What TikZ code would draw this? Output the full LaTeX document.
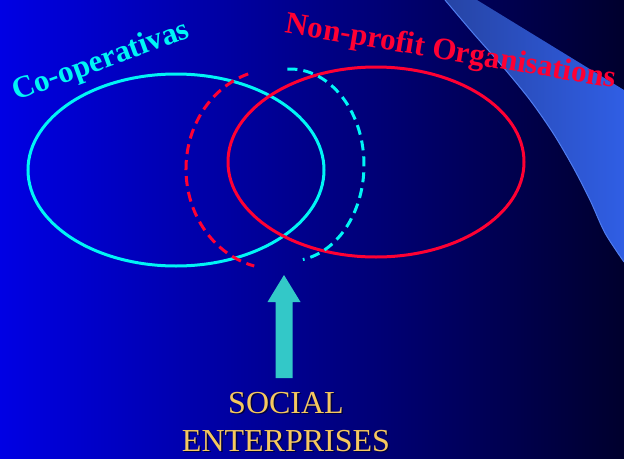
\documentclass[tikz,border=0pt]{standalone}
\usepackage{fontspec}
\setmainfont{Liberation Serif}
\usepackage{tikz}
\usetikzlibrary{calc}
\usetikzlibrary{shapes}
\definecolor[named]{SlideBlue}{RGB}{0,0,228}
\definecolor[named]{SlideNavy}{RGB}{0,0,45}
\definecolor[named]{SwooshDark}{RGB}{38,68,165}
\definecolor[named]{SwooshLight}{RGB}{48,94,228}
\definecolor[named]{SwooshEdge}{RGB}{80,125,240}
\definecolor[named]{CoopCyan}{RGB}{0,245,245}
\definecolor[named]{NpoRed}{RGB}{255,0,51}
\definecolor[named]{ArrowTeal}{RGB}{51,200,200}
\definecolor[named]{SeYellow}{RGB}{245,200,95}
\colorlet{seshadow}{black!75!blue}
\tikzset{
  set/.style={ellipse,draw,line width=3pt,inner sep=0pt,
    minimum width=296pt,minimum height=192pt},
  fuzzy/.style={line width=3pt,dash pattern=on 10pt off 6pt},
  setlabel/.style={font=\bfseries\fontsize{31}{36}\selectfont,inner sep=0pt},
  selabel/.style={font=\fontsize{32}{38}\selectfont,align=center,inner sep=0pt,anchor=north}
}
\begin{document}
\begin{tikzpicture}[x=1pt,y=1pt]
  \useasboundingbox (0,0) rectangle (624,-458);
  \shade[left color=SlideBlue,right color=SlideNavy] (0,0) rectangle (624,-458);
  % swoosh in the corner
  \shade[left color=SwooshDark,right color=SwooshLight]
    plot[smooth] coordinates {(445,0) (473,-33) (503,-67) (530,-100) (553,-133)
      (573,-167) (590,-200) (605,-233) (624,-262)}
    -- (624,-90) -- (477,0) -- cycle;
  \draw[SwooshEdge,line width=1pt]
    plot[smooth] coordinates {(445,0) (473,-33) (503,-67) (530,-100) (553,-133)
      (573,-167) (590,-200) (605,-233) (624,-262)};
  % the two sets
  \node[set,draw=CoopCyan] (coop) at (176,-170) {};
  \node[set,draw=NpoRed,minimum height=190pt] (npo) at (376,-162) {};
  \coordinate (redc) at (276,-169);
  \coordinate (cyanc) at (290,-165);
  \draw[fuzzy,NpoRed] ($(redc)+({90*cos(108)},{100*sin(108)})$)
    arc[start angle=108,end angle=256,x radius=90,y radius=100];
  \draw[fuzzy,CoopCyan] ($(cyanc)+({74*cos(92)},{96*sin(92)})$)
    arc[start angle=92,end angle=-80,x radius=74,y radius=96];
  \node[setlabel,CoopCyan,rotate=20] (cooplab) at (101,-62) {Co-operativas};
  \node[setlabel,NpoRed,rotate=-9.5] (npolab) at (451,-53) {Non-profit Organisations};
  % arrow and caption
  \coordinate (tip) at (284,-275);
  \coordinate (tail) at (284,-378);
  \fill[ArrowTeal] ($(tail)+(-8.5,0)$) -- ($(tip)+(-8.5,-27)$) -- ($(tip)+(-16.5,-27)$)
    -- (tip) -- ($(tip)+(16.5,-27)$) -- ($(tip)+(8.5,-27)$) -- ($(tail)+(8.5,0)$) -- cycle;
  \node[selabel,seshadow] (seshad) at (287.5,-393.5) {SOCIAL\\ENTERPRISES};
  \node[selabel,SeYellow] (se) at (286,-392) {SOCIAL\\ENTERPRISES};
\end{tikzpicture}
\end{document}
